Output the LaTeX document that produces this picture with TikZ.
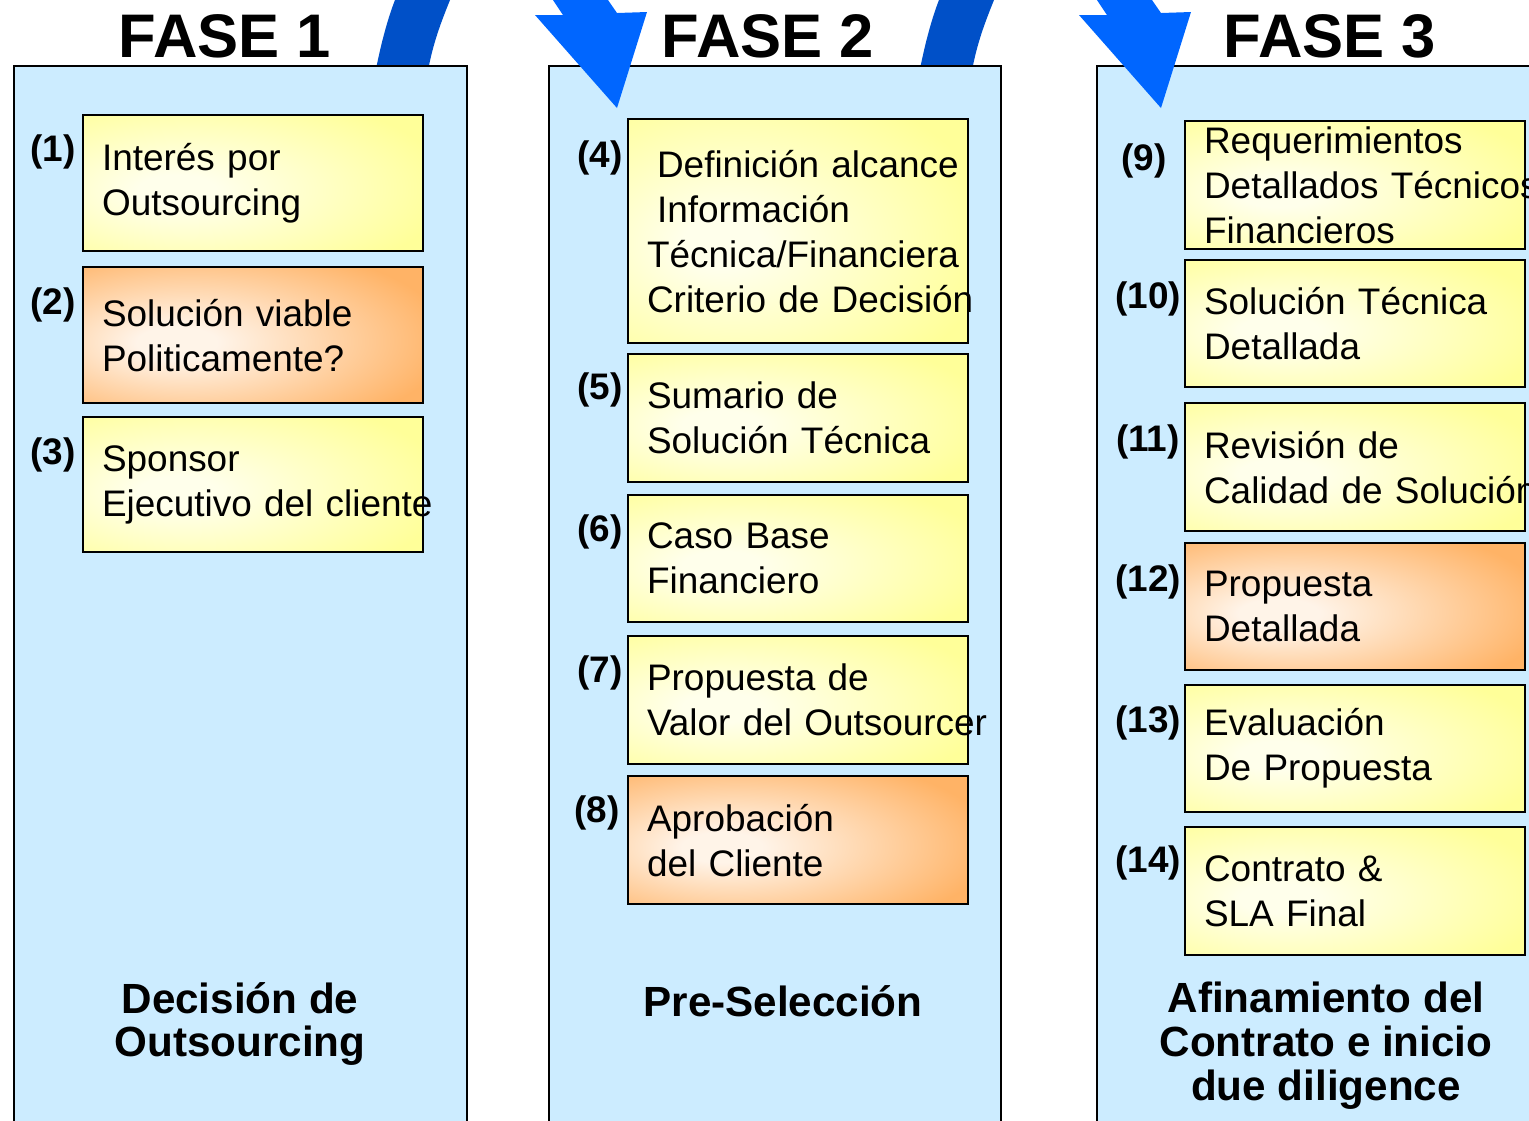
\documentclass[tikz,border=0pt]{standalone}
\usepackage{fontspec}
\setmainfont{Liberation Sans}
\usetikzlibrary{positioning}
\definecolor{panelblue}{HTML}{CCECFF}
\definecolor{boxyellow}{HTML}{FFFF99}
\definecolor{boxorange}{HTML}{FFB366}
\definecolor{arcdark}{HTML}{0050C8}
\definecolor{arclight}{HTML}{0066FF}
\colorlet{ycore}{white!80!boxyellow}
\colorlet{ocore}{white!85!boxorange}
\pgfdeclareradialshading{yglow}{\pgfpoint{-12bp}{-3bp}}{color(0bp)=(ycore); color(6bp)=(ycore); color(36bp)=(boxyellow); color(90bp)=(boxyellow)}
\pgfdeclareradialshading{oglow}{\pgfpoint{-12bp}{-3bp}}{color(0bp)=(ocore); color(6bp)=(ocore); color(36bp)=(boxorange); color(90bp)=(boxorange)}

\begin{document}
\begin{tikzpicture}[x=0.01cm,y=-0.01cm,
  panel/.style={draw=black,line width=0.6pt,fill=panelblue},
  ybox/.style={draw=black,line width=0.6pt,shading=yglow,anchor=north west,
    text width=3.02cm,inner xsep=0.19cm,inner ysep=0pt,align=left,
    font=\fontsize{10.5}{12.8}\selectfont},
  obox/.style={ybox,shading=oglow},
  num/.style={font=\bfseries\fontsize{10.5}{12.8}\selectfont},
  fase/.style={font=\bfseries\fontsize{17.5}{20}\selectfont},
  caption/.style={font=\bfseries\fontsize{12}{12.5}\selectfont,align=center}]
\useasboundingbox (0,0) rectangle (1529,1120);
\clip (0,0) rectangle (1529,1120);

% curved arrows, back part
\foreach \dx in {0,544}{
  \fill[arcdark,shift={(\dx,0)}] (372,90) .. controls (380,45) and (388,18) .. (395,0) -- (396,-10)
    -- (452,-10) -- (450,0) .. controls (440,25) and (430,50) .. (425,90) -- cycle;
}

% panels
\draw[panel] (14,66) rectangle (467,1140);
\draw[panel] (549,66) rectangle (1001,1140);
\draw[panel] (1097,66) rectangle (1560,1140);

% arrow heads
\foreach \dx in {0,544}{
  \fill[arclight,shift={(\dx,0)}] (553,-10) -- (553,0) -- (563,15) -- (535,15) -- (617,108)
    -- (647,12) -- (617,13) -- (608,0) -- (608,-10) -- cycle;
}

\node[fase] (f1) at (225,36) {FASE 1};
\node[fase] (f2) at (768,36) {FASE 2};
\node[fase] (f3) at (1330,36) {FASE 3};

% fase 1
\node[ybox,minimum height=1.36cm] (b1) at (82,114) {Interés por\\Outsourcing};
\node[obox,minimum height=1.36cm] (b2) at (82,266) {Solución viable\\Politicamente?};
\node[ybox,minimum height=1.35cm] (b3) at (82,416) {Sponsor\\\mbox{Ejecutivo del cliente}};
\node[num] (n1) at (53,152) {(1)};
\node[num] (n2) at (53,305) {(2)};
\node[num] (n3) at (53,455) {(3)};

% fase 2
\node[ybox,minimum height=2.24cm] (b4) at (627,118) {\hspace*{0.1cm}\mbox{Definición alcance}\\\hspace*{0.1cm}Información\\\mbox{Técnica/Financiera}\\\mbox{Criterio de Decisión}};
\node[ybox,minimum height=1.28cm] (b5) at (627,353) {Sumario de\\\mbox{Solución Técnica}};
\node[ybox,minimum height=1.27cm] (b6) at (627,494) {Caso Base\\Financiero};
\node[ybox,minimum height=1.28cm] (b7) at (627,635) {Propuesta de\\\mbox{Valor del Outsourcer}};
\node[obox,minimum height=1.28cm] (b8) at (627,775) {Aprobación\\del Cliente};
\node[num] (n4) at (600,158) {(4)};
\node[num] (n5) at (600,390) {(5)};
\node[num] (n6) at (600,532) {(6)};
\node[num] (n7) at (600,673) {(7)};
\node[num] (n8) at (597,813) {(8)};

% fase 3
\node[ybox,minimum height=1.28cm] (b9) at (1184,120) {Requerimientos\\\mbox{Detallados Técnicos}\\Financieros};
\node[ybox,minimum height=1.27cm] (b10) at (1184,259) {\mbox{Solución Técnica}\\Detallada};
\node[ybox,minimum height=1.28cm] (b11) at (1184,402) {Revisión de\\\mbox{Calidad de Solución}};
\node[obox,minimum height=1.27cm] (b12) at (1184,542) {Propuesta\\Detallada};
\node[ybox,minimum height=1.27cm] (b13) at (1184,684) {Evaluación\\De Propuesta};
\node[ybox,minimum height=1.28cm] (b14) at (1184,826) {Contrato \&\\SLA Final};
\node[num] (n9) at (1144,161) {(9)};
\node[num] (n10) at (1148,299) {(10)};
\node[num] (n11) at (1148,442) {(11)};
\node[num] (n12) at (1148,582) {(12)};
\node[num] (n13) at (1148,723) {(13)};
\node[num] (n14) at (1148,863) {(14)};

\node[caption] (c1) at (240,1024) {Decisión de\\Outsourcing};
\node[caption] (c2) at (783,1001) {Pre-Selección};
\node[caption] (c3) at (1326,1046) {Afinamiento del\\Contrato  e inicio\\due diligence};
\end{tikzpicture}
\end{document}
